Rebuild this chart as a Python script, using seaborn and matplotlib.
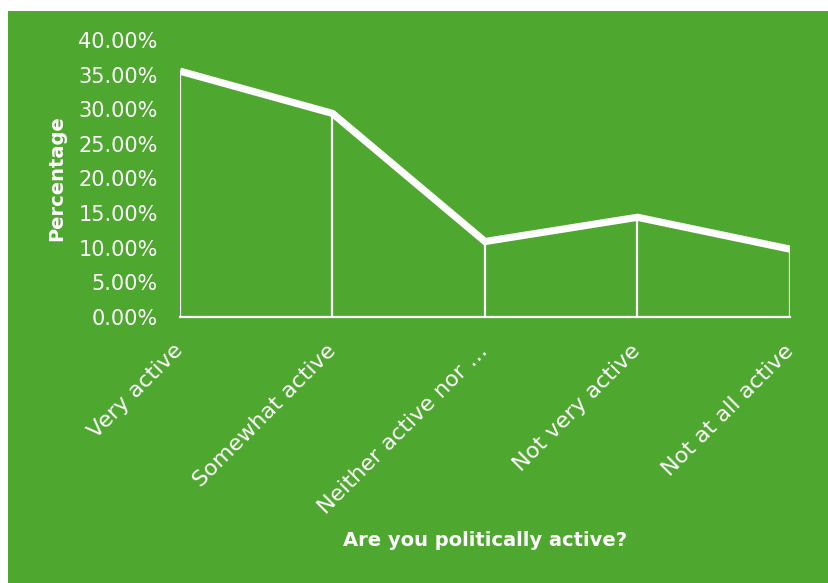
import matplotlib
matplotlib.use("Agg")
import matplotlib.pyplot as plt
import matplotlib.patches as mpatches
from matplotlib.ticker import FuncFormatter
import seaborn as sns
import pandas as pd

# Survey responses: share of respondents per activity level
categories = ["Very active", "Somewhat active", "Neither active nor \u2026",
              "Not very active", "Not at all active"]
percentages = [35.5, 29.4, 10.9, 14.4, 9.8]
y_ticks = [0, 5, 10, 15, 20, 25, 30, 35, 40]

GREEN = "#4EA72E"
WHITE = "#FFFFFF"

sns.set_theme(style="white")
plt.rcParams["font.family"] = ["DejaVu Sans"]

df = pd.DataFrame({"pos": range(len(categories)), "category": categories,
                   "pct": percentages})

fig = plt.figure(figsize=(8.29, 5.83), dpi=100)
fig.patch.set_facecolor(WHITE)
# green chart area with a thin white margin on the left and top
fig.patches.append(mpatches.Rectangle((8 / 829, 0), 1 - 8 / 829, 1 - 11 / 583,
                                      transform=fig.transFigure,
                                      facecolor=GREEN, edgecolor="none", zorder=-10))

ax = fig.add_axes([180 / 829, (583 - 317) / 583, 610 / 829, 277 / 583])
ax.set_facecolor("none")
ax.set_zorder(5)

# drop lines from each point down to the baseline
ax.vlines(df["pos"], 0, df["pct"], color=WHITE, linewidth=1.6, zorder=2)

sns.lineplot(data=df, x="pos", y="pct", ax=ax, color=WHITE, linewidth=5.2,
             solid_capstyle="butt", solid_joinstyle="miter", zorder=3)

ax.set_xlim(0, len(categories) - 1)
ax.set_ylim(0, 40)
ax.set_yticks(y_ticks)
ax.yaxis.set_major_formatter(FuncFormatter(lambda v, _: f"{v:.2f}%"))
ax.set_xticks(df["pos"])
ax.set_xticklabels(categories, rotation=45, ha="right", va="center",
                   rotation_mode="anchor", fontsize=16)

ax.tick_params(axis="both", length=0, colors=WHITE)
ax.tick_params(axis="y", labelsize=15, pad=16)
ax.tick_params(axis="x", pad=22)

for side in ["top", "right", "left"]:
    ax.spines[side].set_visible(False)
ax.spines["bottom"].set_color(WHITE)
ax.spines["bottom"].set_linewidth(1.6)
ax.grid(False)

ax.set_ylabel("Percentage", color=WHITE, fontsize=14, fontweight="bold")
ax.set_xlabel("Are you politically active?", color=WHITE, fontsize=14,
              fontweight="bold")
ax.yaxis.set_label_coords(-0.187, 0.5)
ax.xaxis.set_label_coords(0.5, -0.772)

fig.savefig("out.png", dpi=100, facecolor=fig.get_facecolor())
